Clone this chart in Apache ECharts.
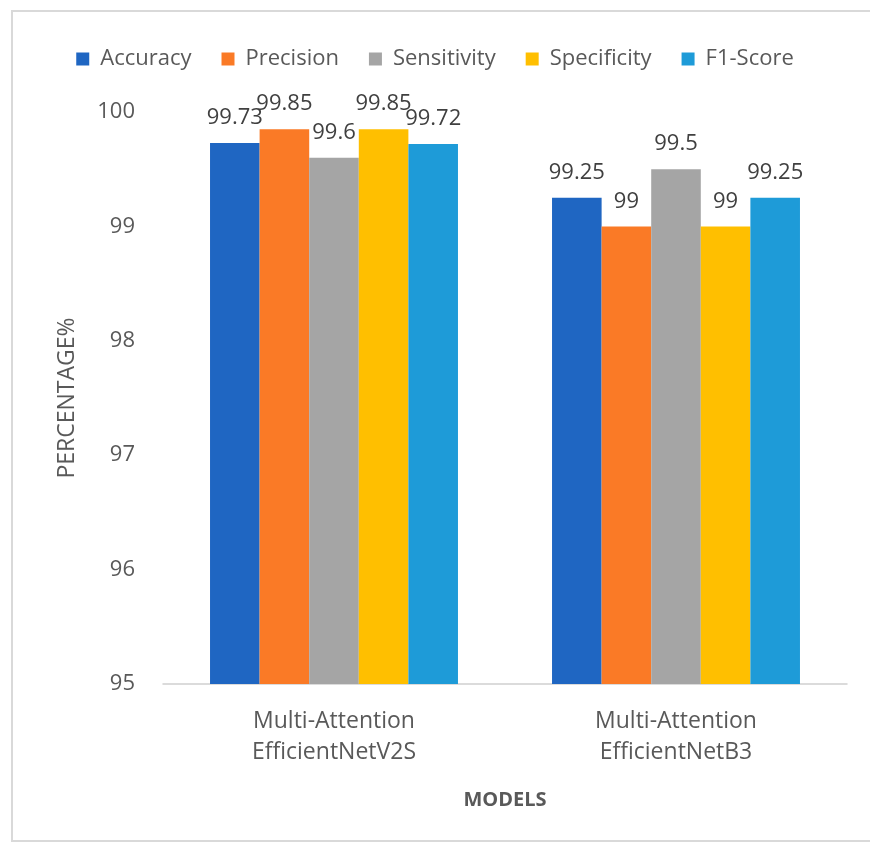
<!DOCTYPE html>
<html>
<head>
<meta charset="utf-8">
<script src="https://cdn.jsdelivr.net/npm/echarts@6/dist/echarts.min.js"></script>
<style>
  html, body { margin: 0; padding: 0; background: #fff; }
  #chart { width: 870px; height: 844px; }
</style>
</head>
<body>
<div id="chart"></div>
<script>
const models = ['Multi-Attention\nEfficientNetV2S', 'Multi-Attention\nEfficientNetB3'];
const accuracy = [99.73, 99.25];
const precision = [99.85, 99];
const sensitivity = [99.6, 99.5];
const specificity = [99.85, 99];
const f1Score = [99.72, 99.25];
const yTicks = [95, 96, 97, 98, 99, 100];

const metrics = [
  { name: 'Accuracy', data: accuracy, color: '#1F66C2' },
  { name: 'Precision', data: precision, color: '#FA7A26' },
  { name: 'Sensitivity', data: sensitivity, color: '#A5A5A5' },
  { name: 'Specificity', data: specificity, color: '#FFBF00' },
  { name: 'F1-Score', data: f1Score, color: '#1E9BD8' },
];

const chart = echarts.init(document.getElementById('chart'));
const font = '"Open Sans", "Noto Sans", sans-serif';

chart.setOption({
  animation: false,
  textStyle: { fontFamily: font },
  graphic: [
    {
      type: 'rect',
      shape: { x: 12, y: 11, width: 880, height: 830 },
      style: { fill: 'none', stroke: '#d9d9d9', lineWidth: 2 },
      silent: true,
    },
  ],
  legend: {
    top: 43,
    left: 'center',
    itemWidth: 13,
    itemHeight: 13,
    itemGap: 30,
    icon: 'rect',
    textStyle: { fontSize: 22, color: '#595959', fontFamily: font, padding: [0, 0, 0, 6] },
  },
  grid: { left: 163, right: 23, top: 112, bottom: 160, containLabel: false },
  xAxis: {
    type: 'category',
    data: models,
    name: 'MODELS',
    nameLocation: 'middle',
    nameGap: 106,
    nameTextStyle: { fontSize: 20, fontWeight: 'bold', color: '#595959' },
    axisLine: { lineStyle: { color: '#d0d0d0', width: 1.5 } },
    axisTick: { show: false },
    axisLabel: { fontSize: 23, color: '#595959', lineHeight: 31, margin: 22 },
  },
  yAxis: {
    type: 'value',
    min: yTicks[0],
    max: yTicks[yTicks.length - 1],
    interval: 1,
    name: 'PERCENTAGE%',
    nameLocation: 'middle',
    nameGap: 84,
    nameTextStyle: { fontSize: 23, color: '#595959' },
    axisLine: { show: false },
    axisTick: { show: false },
    splitLine: { show: false },
    axisLabel: { fontSize: 22, color: '#595959', margin: 28 },
  },
  series: metrics.map(m => ({
    name: m.name,
    type: 'bar',
    data: m.data,
    barGap: '0%',
    barCategoryGap: '27.5%',
    itemStyle: { color: m.color },
    label: {
      show: true,
      position: 'top',
      distance: 14,
      fontSize: 22,
      color: '#404040',
      fontFamily: font,
    },
  })),
});
</script>
</body>
</html>
